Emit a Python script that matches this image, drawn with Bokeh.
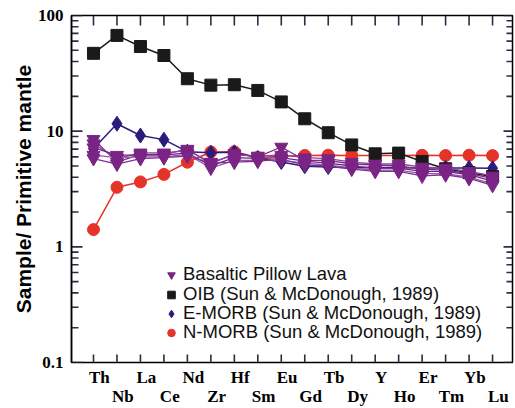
import math
from bokeh.plotting import figure
from bokeh.models import Range1d, LinearAxis, LogAxis, FixedTicker, Legend, LegendItem
from bokeh.embed import file_html
from bokeh.resources import INLINE

elements = ["Th", "Nb", "La", "Ce", "Nd", "Zr", "Hf", "Sm", "Eu", "Gd",
            "Tb", "Dy", "Y", "Ho", "Er", "Tm", "Yb", "Lu"]

oib = [47.1, 67.3, 53.9, 45.1, 28.4, 25.0, 25.2, 22.5, 17.9, 12.8,
       9.7, 7.6, 6.37, 6.46, 5.46, 4.73, 4.38, 4.05]
emorb = [7.06, 11.6, 9.17, 8.45, 6.65, 6.52, 6.57, 5.86, 5.42, 4.98,
         4.90, 4.82, 4.84, 4.82, 4.81, 4.81, 4.81, 4.78]
nmorb = [1.41, 3.27, 3.64, 4.23, 5.39, 6.61, 6.63, 5.92, 6.07, 6.17,
         6.20, 6.17, 6.15, 6.16, 6.19, 6.16, 6.19, 6.15]

lava_1 = [8.5, 5.4, 6.3, 6.3, 7.0, 5.2, 6.4, 6.0, 7.3, 5.6, 5.6, 5.2, 5.1, 5.0, 4.7, 4.6, 4.3, 3.9]
lava_2 = [7.8, 5.8, 6.5, 6.5, 6.8, 5.4, 6.2, 6.1, 6.2, 5.9, 5.8, 5.4, 5.2, 5.2, 4.9, 4.8, 4.5, 4.1]
lava_3 = [7.2, 6.2, 6.2, 6.2, 6.5, 5.0, 5.9, 5.8, 5.9, 5.5, 5.3, 5.0, 4.8, 4.8, 4.5, 4.5, 4.2, 3.7]
lava_4 = [6.2, 5.9, 6.0, 6.0, 6.3, 4.8, 5.6, 5.6, 5.6, 5.3, 5.1, 4.8, 4.6, 4.6, 4.3, 4.3, 4.0, 3.5]
lava_5 = [5.8, 5.2, 5.8, 5.9, 6.1, 5.3, 5.4, 5.5, 5.7, 5.1, 5.0, 4.7, 4.5, 4.5, 4.1, 4.2, 3.9, 3.4]
lava_samples = [lava_1, lava_2, lava_3, lava_4, lava_5]

y_major = [0.1, 1, 10, 100]
y_labels = ["0.1", "1", "10", "100"]

legend_labels = ["Basaltic Pillow Lava", "OIB (Sun & McDonough, 1989)",
                 "E-MORB (Sun & McDonough, 1989)", "N-MORB (Sun & McDonough, 1989)"]

x = list(range(len(elements)))
X0, X1 = -0.937, 17.85
Y0, Y1 = 0.1, 100

W, H = 515, 408
BL, BR, BT, BB = 71, 3, 15, 46

p = figure(width=W, height=H, output_backend="svg", toolbar_location=None,
           y_axis_type="log", x_axis_location=None, y_axis_location=None,
           x_range=Range1d(X0, X1), y_range=Range1d(Y0, Y1),
           min_border_left=BL, min_border_right=BR, min_border_top=BT, min_border_bottom=BB)
p.background_fill_color = "white"
p.border_fill_color = "white"
p.outline_line_color = "black"
p.outline_line_width = 1.5
p.grid.visible = False

minor = [m * 10.0 ** e for e in (-1, 0, 1) for m in range(2, 10)]

def no_ticks(ax):
    ax.major_tick_in = 0
    ax.major_tick_out = 0
    ax.minor_tick_in = 0
    ax.minor_tick_out = 0
    ax.major_tick_line_color = None
    ax.minor_tick_line_color = None

# left axis (labels)
ly = LogAxis(ticker=FixedTicker(ticks=y_major, minor_ticks=[]))
no_ticks(ly)
ly.major_label_overrides = {v: s for v, s in zip(y_major, y_labels)}
ly.axis_line_width = 1.5
ly.major_label_standoff = 8
ly.major_label_text_font = "Liberation Serif"
ly.major_label_text_font_style = "bold"
ly.major_label_text_font_size = "17px"
ly.major_label_text_color = "black"
ly.axis_label = "Sample/ Primitive mantle"
ly.axis_label_text_font = "Liberation Sans"
ly.axis_label_text_font_style = "bold"
ly.axis_label_text_font_size = "21px"
ly.axis_label_text_color = "black"
ly.axis_label_standoff = 0
p.add_layout(ly, "left")

label_shift = 0.25
def label_axis(idxs, standoff):
    pos = [i + label_shift for i in idxs]
    ax = LinearAxis(ticker=FixedTicker(ticks=pos, minor_ticks=[]))
    no_ticks(ax)
    ax.major_label_overrides = {q: elements[i] for q, i in zip(pos, idxs)}
    ax.axis_line_color = None
    ax.major_label_standoff = standoff
    ax.major_label_text_font = "Liberation Serif"
    ax.major_label_text_font_style = "bold"
    ax.major_label_text_font_size = "17px"
    ax.major_label_text_color = "black"
    return ax

p.add_layout(label_axis([i for i in x if i % 2 == 0], 5), "below")
p.add_layout(label_axis([i for i in x if i % 2 == 1], -3), "below")

# inward tick marks, drawn as short segments from the frame edges
fw = W - BL - BR
fh = H - BT - BB
px_x = fw / (X1 - X0)
px_dec = fh / math.log10(Y1 / Y0)

def up(v, pix):
    return v * 10 ** (pix / px_dec)

tick_kw = dict(line_color="#2C2C44", line_width=1.6)
n = len(x)
p.segment(x0=x, y0=[Y0] * n, x1=x, y1=[up(Y0, 8)] * n, **tick_kw)
p.segment(x0=x, y0=[Y1] * n, x1=x, y1=[up(Y1, -10)] * n, **tick_kw)
p.segment(x0=[X0] * 4, y0=y_major, x1=[X0 + 11 / px_x] * 4, y1=y_major, **tick_kw)
p.segment(x0=[X0] * len(minor), y0=minor, x1=[X0 + 7 / px_x] * len(minor), y1=minor, **tick_kw)
p.segment(x0=[X1] * 4, y0=y_major, x1=[X1 - 9 / px_x] * 4, y1=y_major, **tick_kw)
p.segment(x0=[X1] * len(minor), y0=minor, x1=[X1 - 6 / px_x] * len(minor), y1=minor, **tick_kw)

# data
p.line(x, nmorb, line_color="#E5332A", line_width=1.5)
r_n = p.scatter(x, nmorb, marker="circle", size=12, fill_color="#E5332A", line_color="#E5332A")

p.line(x, emorb, line_color="#2B1C7C", line_width=1.5)
r_e = p.scatter(x, emorb, marker="diamond", size=15, fill_color="#2B1C7C", line_color="#2B1C7C")

p.line(x, oib, line_color="#1A1A1A", line_width=1.5)
r_o = p.scatter(x, oib, marker="square", size=12, fill_color="#1A1A1A", line_color="#1A1A1A")

lava_colors = ["#7A2A88", "#8E44A0", "#6E2582", "#9B56AE", "#7F3091"]
r_l = None
for s, c in zip(lava_samples, lava_colors):
    p.line(x, s, line_color=c, line_width=1.3)
    r = p.scatter(x, s, marker="inverted_triangle", size=13, fill_color="#7A2485", line_color="#7A2485")
    if r_l is None:
        r_l = r

# one single-item legend per row, so the row spacing can be set freely
row_offsets = [77, 57, 38, 19]
for lab, rend, oy in zip(legend_labels, [r_l, r_o, r_e, r_n], row_offsets):
    lg = Legend(items=[LegendItem(label=lab, renderers=[rend])], location=(90, oy))
    lg.border_line_color = None
    lg.background_fill_alpha = 0
    lg.label_text_font = "Liberation Sans"
    lg.label_text_font_size = "18.5px"
    lg.label_text_color = "#111111"
    lg.glyph_width = 20
    lg.glyph_height = 19
    lg.label_height = 19
    lg.label_standoff = 2
    lg.padding = 10
    lg.margin = 0
    p.add_layout(lg)

open("out.html", "w").write(file_html(p, INLINE))
